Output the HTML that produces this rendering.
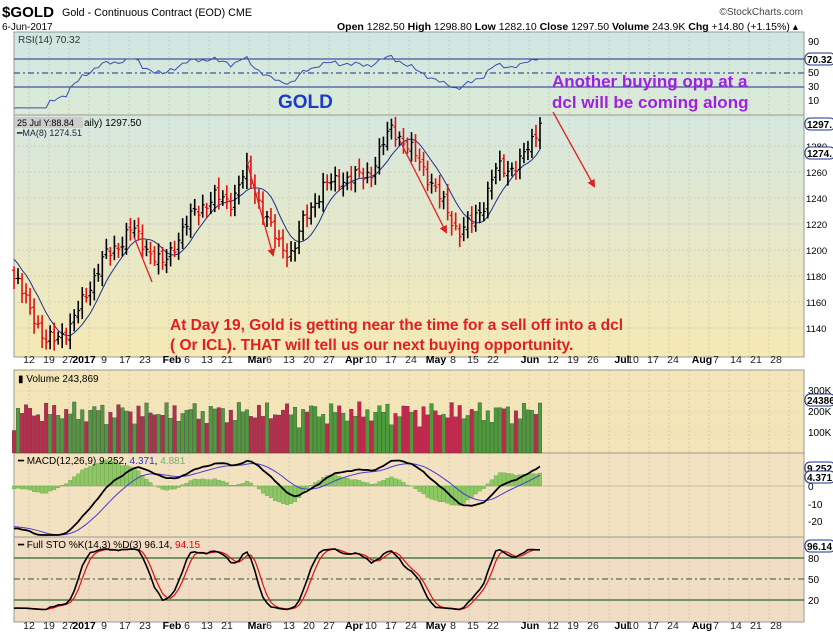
<!DOCTYPE html><html><head><meta charset="utf-8"><style>
body{margin:0;background:#fff;width:833px;height:637px;overflow:hidden;font-family:"Liberation Sans",sans-serif}
svg{display:block}
</style></head><body>
<svg id="s" width="833" height="637" xmlns="http://www.w3.org/2000/svg" font-family="Liberation Sans, sans-serif">
<defs>
<linearGradient id="gm" x1="0" y1="0" x2="0" y2="1"><stop offset="0" stop-color="#d6e8df"/><stop offset="1" stop-color="#f6e9b4"/></linearGradient>
<linearGradient id="gr" x1="0" y1="0" x2="0" y2="1"><stop offset="0" stop-color="#cfe6e2"/><stop offset="1" stop-color="#dcebd6"/></linearGradient>
<marker id="ah" markerWidth="8" markerHeight="8" refX="6" refY="4" orient="auto" markerUnits="userSpaceOnUse"><path d="M0,0 L8,4 L0,8z" fill="#e02020"/></marker>
</defs>
<rect x="14" y="32" width="790" height="83" fill="url(#gr)" stroke="#999"/>
<rect x="14" y="115" width="790" height="242" fill="url(#gm)" stroke="#999"/>
<rect x="14" y="370" width="790" height="83" fill="#f3e5b8" stroke="#999"/>
<rect x="14" y="453" width="790" height="84" fill="#f3e2c0" stroke="#999"/>
<rect x="14" y="537" width="790" height="85" fill="#f1dcc4" stroke="#999"/>
<g id="g"></g>
<text x="2" y="17" font-size="15" font-weight="bold" textLength="52" lengthAdjust="spacingAndGlyphs">$GOLD</text>
<text x="62" y="16" font-size="11" textLength="190" lengthAdjust="spacingAndGlyphs">Gold - Continuous Contract (EOD) CME</text>
<text x="2" y="30" font-size="10">6-Jun-2017</text>
<text x="803" y="15" font-size="10" text-anchor="end" fill="#444">©StockCharts.com</text>
<text x="798" y="30" font-size="10.5" text-anchor="end"><tspan font-weight="bold">Open</tspan> 1282.50 <tspan font-weight="bold">High</tspan> 1298.80 <tspan font-weight="bold">Low</tspan> 1282.10 <tspan font-weight="bold">Close</tspan> 1297.50 <tspan font-weight="bold">Volume</tspan> 243.9K <tspan font-weight="bold">Chg</tspan> +14.80 (+1.15%) ▴</text>
<text x="18" y="43" font-size="10" fill="#333">RSI(14) 70.32</text>
<rect x="15" y="117" width="68" height="11" fill="#ccc"/>
<text x="17" y="126" font-size="9">25 Jul Y:88.84</text>
<text x="84" y="126" font-size="10">aily) 1297.50</text>
<text x="17" y="136" font-size="9" fill="#224">━MA(8) 1274.51</text>
<text x="18" y="382" font-size="10">▮ Volume 243,869</text>
<text x="18" y="464" font-size="10">━ MACD(12,26,9) 9.252, <tspan fill="#3030c0">4.371</tspan>, <tspan fill="#70b070">4.881</tspan></text>
<text x="18" y="548" font-size="10">━ Full STO %K(14,3) %D(3) 96.14, <tspan fill="#e00">94.15</tspan></text>
<text x="278" y="108" font-size="19" font-weight="bold" fill="#1a3cc8">GOLD</text>
<text x="552" y="87" font-size="17" font-weight="bold" fill="#a020e0">Another buying opp at a</text>
<text x="552" y="108" font-size="17" font-weight="bold" fill="#a020e0">dcl will be coming along</text>
<text x="170" y="330" font-size="15.5" font-weight="bold" fill="#e02020">At Day 19, Gold is getting near the time for a sell off into a dcl</text>
<text x="170" y="350" font-size="15.5" font-weight="bold" fill="#e02020">(  Or ICL).   THAT will tell us our next buying opportunity.</text>
<g stroke="#e02020" stroke-width="1.3">
<line x1="553" y1="112" x2="594" y2="186" marker-end="url(#ah)"/>
<line x1="400" y1="141" x2="446" y2="232" marker-end="url(#ah)"/>
<line x1="247" y1="162" x2="273" y2="255" marker-end="url(#ah)"/>
<line x1="134" y1="237" x2="152" y2="282"/>
</g>
</svg>
<script>
var g=document.getElementById('g'),h='';
function L(x1,y1,x2,y2,c,w,d){h+='<line x1="'+x1+'" y1="'+y1+'" x2="'+x2+'" y2="'+y2+'" stroke="'+c+'" stroke-width="'+(w||1)+'"'+(d?' stroke-dasharray="'+d+'"':'')+'/>';}
function T(x,y,t,s,a,extra){h+='<text x="'+x+'" y="'+y+'" font-size="'+(s||10)+'"'+(a?' text-anchor="'+a+'"':'')+(extra||'')+'>'+t+'</text>';}
function P(pts,c,w,d){h+='<polyline fill="none" stroke="'+c+'" stroke-width="'+(w||1)+'"'+(d?' stroke-dasharray="'+d+'"':'')+' points="'+pts.map(p=>p[0].toFixed(1)+','+p[1].toFixed(1)).join(' ')+'"/>';}
var wk=[];for(var i=0;i<39;i++)wk.push(29+i*20);
[[32,115],[115,357],[370,453],[453,537],[537,622]].forEach(r=>{wk.forEach(x=>{if(x<804)L(x,r[0],x,r[1],'#bbb',0.6,'2,2')})});
[146,172,198,224,250,276,302,328].forEach(y=>L(14,y,804,y,'#bbb',0.6,'2,2'));
[391,412,432].forEach(y=>L(14,y,804,y,'#ccc',0.6,'2,2'));
var lab=['12','19','27','2017','9','17','23','Feb','6','13','21','Mar','6','13','20','27','Apr','10','17','24','May','8','15','22','Jun','12','19','26','Jul','10','17','24','Aug','7','14','21','28'];
var lx=[29,49,68,84,104,125,145,172,187,207,227,257,269,289,309,329,354,371,391,411,436,453,473,493,530,553,573,593,622,633,653,673,702,716,736,756,776];
[363,629].forEach(y=>lab.forEach((t,i)=>T(lx[i],y,t,10.5,'middle',/^[A-Z2]/.test(t)&&t.length>2?' font-weight="bold"':' fill="#222"')));
var K=[[14,1178],[24,1165],[34,1150],[45,1128],[60,1135],[70,1140],[85,1165],[105,1195],[120,1205],[132,1217],[148,1200],[162,1188],[175,1205],[195,1230],[215,1240],[232,1238],[246,1262],[262,1232],[278,1205],[292,1197],[305,1225],[325,1250],[345,1255],[370,1258],[382,1280],[392,1294],[402,1285],[418,1270],[440,1240],[458,1214],[470,1220],[482,1232],[495,1262],[510,1262],[522,1270],[532,1283],[540,1297.5]];
function interp(x){for(var i=0;i<K.length-1;i++)if(x<=K[i+1][0]){var t=(x-K[i][0])/(K[i+1][0]-K[i][0]);return K[i][1]+t*(K[i+1][1]-K[i][1]);}return K[K.length-1][1];}
var N=132,C=[],X=[],PRE=40,F=[];
for(var i=0;i<PRE;i++)F.push(1330-i*(150/PRE)+Math.sin(i*2.1)*3);
for(var i=0;i<N;i++){var x=14+i*(526/(N-1));X.push(x);var n=(i==N-1)?0:Math.sin(i*2.3)*4+Math.sin(i*0.9)*3;C.push(interp(x)+n);}
F=F.concat(C);
function py(p){return 250-(p-1200)*1.3;}
var ma=[];
for(var i=0;i<N;i++){var s=0;for(var j=i+PRE-7;j<=i+PRE;j++)s+=F[j];ma.push(s/8);}
P(X.map((x,i)=>[x,py(ma[i])]),'#1c2f8c',1);
for(var i=0;i<N;i++){var o=F[i+PRE-1]+Math.sin(i*3.1)*2;var hi=Math.max(o,C[i])+3+Math.abs(Math.sin(i*1.7))*5,lo=Math.min(o,C[i])-3-Math.abs(Math.cos(i*1.3))*5;
var col=(C[i]<F[i+PRE-1])?'#e01010':'#000';L(X[i],py(hi),X[i],py(lo),col,1.6);L(X[i]-2,py(o),X[i],py(o),col,1.2);L(X[i],py(C[i]),X[i]+2,py(C[i]),col,1.2);}
// RSI
var ag=0,al=0,rsiF=[50];for(var i=1;i<F.length;i++){var d=F[i]-F[i-1];var up=Math.max(d,0),dn=Math.max(-d,0);if(i<15){ag+=up/14;al+=dn/14;}else{ag=(ag*13+up)/14;al=(al*13+dn)/14;}rsiF.push(100-100/(1+ag/(al||1e-6)));}
L(14,59,804,59,'#1c2f8c',1);L(14,87,804,87,'#1c2f8c',1);L(14,73,804,73,'#1c2f8c',1,'6,3,2,3');
P(X.map((x,i)=>{var r=rsiF[i+PRE];if(i==N-1)r=70.3;return [x,87-(r-30)*0.7]}),'#3a4fb0',1);
// volume
for(var i=0;i<N;i++){var v=110+80*Math.abs(Math.sin(i*1.37))+60*Math.abs(Math.sin(i*0.53));if(i==N-1)v=244;var col=(C[i]<F[i+PRE-1])?'#c0294d':'#4e9a3c';h+='<rect x="'+(X[i]-1.8)+'" y="'+(453-v*0.205)+'" width="3.6" height="'+(v*0.205)+'" fill="'+col+'" stroke="#333" stroke-width="0.3"/>';}
// MACD
function ema(a,n){var k=2/(n+1),o=[a[0]];for(var i=1;i<a.length;i++)o.push(a[i]*k+o[i-1]*(1-k));return o;}
var e12=ema(F,12),e26=ema(F,26),mF=F.map((c,i)=>e12[i]-e26[i]),sF=ema(mF,9);
var m=mF.slice(PRE),sg=sF.slice(PRE);
function my(v){return Math.max(455,Math.min(535,486-v*1.75));}
L(14,486,804,486,'#999',0.5);
for(var i=0;i<N;i++){var hv=(m[i]-sg[i])*1.5;var y1=my(hv);h+='<rect x="'+(X[i]-1.8)+'" y="'+Math.min(y1,486)+'" width="3.6" height="'+Math.abs(y1-486)+'" fill="#8cc864" stroke="#5a9a3a" stroke-width="0.3"/>';}
P(X.map((x,i)=>[x,my(sg[i])]),'#4a3ad0',1);P(X.map((x,i)=>[x,my(m[i])]),'#000',1.8);
// STO
var kF=[];for(var i=0;i<F.length;i++){var hh=-1e9,ll=1e9;for(var j=Math.max(0,i-13);j<=i;j++){hh=Math.max(hh,F[j]+5);ll=Math.min(ll,F[j]-5);}kF.push(100*(F[i]-ll)/(hh-ll));}
var k3=kF.map((v,i)=>(v+kF[Math.max(0,i-1)]+kF[Math.max(0,i-2)])/3),d3=k3.map((v,i)=>(v+k3[Math.max(0,i-1)]+k3[Math.max(0,i-2)])/3);
function sy(v){return 614-v*0.7;}
L(14,558,804,558,'#2a6a2a',1.2);L(14,600,804,600,'#2a6a2a',1.2);L(14,579,804,579,'#2a5a2a',1,'6,3,2,3');
P(X.map((x,i)=>[x,sy(d3[i+PRE])]),'#e01010',1.2);P(X.map((x,i)=>[x,sy(k3[i+PRE])]),'#000',1.6);
[['90',45],['50',76],['30',90],['10',104]].forEach(a=>T(808,a[1],a[0],10));
[['1280',150],['1260',176],['1240',202],['1220',228],['1200',254],['1180',280],['1160',306],['1140',332]].forEach(a=>T(806,a[1],a[0],9.5));
[['300K',394],['200K',415],['100K',436]].forEach(a=>T(808,a[1],a[0],10));
[['0',490],['-10',508],['-20',525]].forEach(a=>T(808,a[1],a[0],10));
[['80',562],['50',583],['20',604]].forEach(a=>T(808,a[1],a[0],10));
function tag(y,t){h+='<rect x="805" y="'+(y-6)+'" width="30" height="12" rx="5" fill="#fff" stroke="#1c2f8c"/>';T(807,y+4,t,10,'',' font-weight="bold"');}
tag(59,'70.32');tag(124,'1297.');tag(153,'1274.');tag(400,'24386');tag(468,'9.252');tag(477,'4.371');tag(546,'96.14');
g.innerHTML=h;
</script>
</body></html>
